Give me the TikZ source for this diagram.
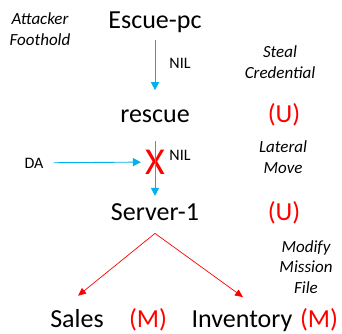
\documentclass[tikz,border=0pt]{standalone}
\usepackage{fontspec}
\setmainfont{Carlito}
\usetikzlibrary{arrows.meta}
\definecolor{linkblue}{RGB}{0,176,240}

\begin{document}
\begin{tikzpicture}[x=1pt, y=1pt,
	host/.style={font=\fontsize{26}{30}\selectfont, anchor=base, inner sep=3pt},
	status/.style={host, text=red},
	note/.style={font=\fontsize{17}{20.5}\selectfont\itshape, align=center, anchor=base, inner sep=0pt},
	tag/.style={font=\fontsize{16}{19}\selectfont, anchor=base, inner sep=0pt},
	blueline/.style={draw=linkblue, line width=0.9pt, -{Triangle[length=8pt,width=8pt]}},
	redline/.style={draw=red, line width=0.7pt, -{Triangle[length=8pt,width=7pt]}},
	]
	\useasboundingbox (0,0) rectangle (342,-333);
	%Nodes
	\node[host]   (escue)     at (155,-28)  {Escue-pc};
	\node[host]   (rescue)    at (155,-122) {rescue};
	\node[host]   (server)    at (155,-220) {Server-1};
	\node[host]   (sales)     at (77,-327)  {Sales};
	\node[host]   (inventory) at (242,-327) {Inventory};

	\node[status] (ur)  at (284,-122) {(U)};
	\node[status] (us)  at (284,-220) {(U)};
	\node[status] (ms)  at (148,-327) {(M)};
	\node[status] (mi)  at (319,-327) {(M)};

	% multi-line notes sit on their last line
	\node[note]   (foothold) at (40,-45)  {Attacker\\Foothold};
	\node[note]   (steal)    at (280,-78) {Steal\\Credential};
	\node[note]   (lateral)  at (283,-173) {Lateral\\Move};
	\node[note]   (modify)   at (306,-293) {Modify\\Mission\\File};

	\node[tag]    (nil1) at (180,-68)  {NIL};
	\node[tag]    (nil2) at (180,-160) {NIL};
	\node[tag]    (da)   at (34,-168)  {DA};
	\node[font=\fontsize{38}{40}\selectfont, text=red, inner sep=0pt] (cross) at (155,-162) {X};

	\coordinate (fork) at ([yshift=-10pt]server.south);

	%Lines
	\draw[blueline, shorten <=5pt, shorten >=16pt] (escue) -- (rescue);
	\draw[blueline, shorten <=16pt, shorten >=4pt] (rescue) -- (server);
	\draw[blueline, shorten <=10pt, shorten >=4pt] (da) -- (cross);
	\draw[redline] (fork) -- ([xshift=1pt, yshift=10pt]sales.north);
	\draw[redline] (fork) -- ([xshift=1pt, yshift=10pt]inventory.north);
\end{tikzpicture}
\end{document}
